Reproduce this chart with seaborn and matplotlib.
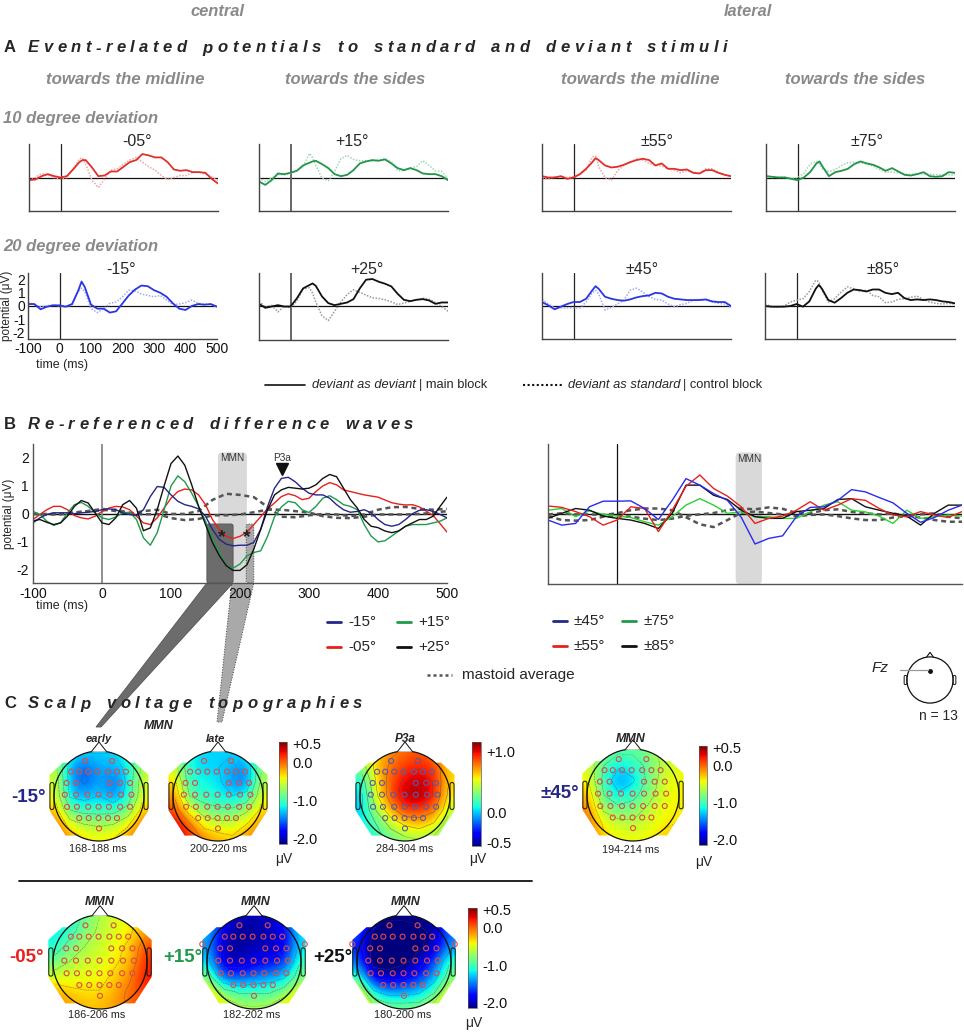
import numpy as np
import pandas as pd
import matplotlib
matplotlib.use("Agg")
import matplotlib.pyplot as plt
import seaborn as sns
from matplotlib.patches import Polygon, Circle, FancyBboxPatch
from matplotlib.lines import Line2D
from matplotlib.colors import Normalize
import matplotlib.cm as cm

# ====================== DATA ======================
# A: ERPs (time grid in ms)
t_a = [-100, -80, -60, -40, -20, 0, 20, 40, 60, 70, 80, 100, 120, 140, 160, 180, 200,
       220, 240, 260, 280, 300, 320, 340, 360, 380, 400, 420, 440, 460, 480, 500]

erp_m05_dev = [-0.2,-0.15,0.1,0.25,0.1,0.0, 0.1,0.6,1.15,1.3,1.3, 0.75,0.1,0.15,0.45,0.45,0.8,1.15,1.3,1.75,1.65,1.5,1.5,1.15,0.6,0.5,0.55,0.4,0.4,0.35,-0.1,-0.45]
erp_m05_ctl = [-0.25,0.0,0.3,0.2,0.0,-0.15, 0.0,0.65,1.4,1.45,1.0, -0.2,-0.75,-0.1,0.55,0.65,1.0,1.3,1.5,1.15,0.8,0.55,0.15,-0.15,0.0,0.15,0.15,0.4,0.4,0.25,0.05,-0.2]
erp_p15_dev = [-0.3,-0.55,-0.2,0.3,0.25,0.35, 0.5,0.9,1.1,1.2,1.25, 1.0,0.7,0.25,0.1,0.2,0.55,1.05,1.2,1.3,1.25,1.35,1.05,0.7,0.55,0.7,0.55,0.3,0.25,0.25,0.1,-0.2]
erp_p15_ctl = [-0.05,-0.3,-0.05,0.2,0.2,0.3, 0.5,0.8,1.8,1.5,0.9, -0.05,-0.25,0.45,1.4,1.65,1.35,1.25,1.25,1.2,1.3,1.4,1.2,0.5,0.5,0.7,0.8,1.25,0.9,0.5,0.45,-0.1]
erp_m15_dev = [0.15,0.15,-0.25,-0.05,0.05,0.05, -0.05,0.15,1.2,1.85,1.45, 0.1,-0.2,-0.2,-0.5,-0.4,0.2,0.8,1.25,1.55,1.5,1.2,1.0,0.7,0.2,-0.2,-0.3,0.0,0.15,0.1,0.15,-0.05]
erp_m15_ctl = [0.3,0.1,-0.05,0.0,0.1,0.0, -0.1,0.1,1.1,1.35,1.1, -0.2,-0.5,-0.2,0.2,0.3,0.7,1.2,1.15,0.9,0.8,0.7,0.8,0.45,0.1,0.15,0.25,0.45,0.2,0.15,0.1,-0.1]
erp_p25_dev = [0.2,-0.1,0.0,0.1,0.0,0.0, 0.6,1.35,1.6,1.72,1.55, 0.75,0.25,0.1,0.2,0.3,0.55,1.35,2.0,2.05,1.85,1.7,1.5,0.95,0.5,0.4,0.5,0.55,0.45,0.2,0.3,0.3]
erp_p25_ctl = [0.4,-0.05,0.1,-0.4,0.0,-0.1, 0.4,1.3,1.4,1.0,0.35, -0.7,-1.05,-0.35,0.35,0.9,1.25,1.05,0.85,0.65,0.6,0.5,0.35,0.15,0.25,0.38,0.5,0.62,0.55,0.3,0.0,-0.35]
erp_p55_dev = [0.1,0.0,0.0,0.1,-0.1,0.0, 0.25,0.65,1.15,1.45,1.3, 0.9,0.75,0.8,0.95,1.15,1.3,1.4,1.3,0.9,1.05,0.65,0.65,0.55,0.6,0.35,0.3,0.55,0.55,0.35,0.2,0.1]
erp_p55_ctl = [-0.1,-0.1,0.05,0.05,0.0,0.05, 0.2,0.55,1.55,1.6,0.8, 0.0,-0.2,0.5,0.9,1.1,1.4,1.3,1.05,0.9,0.85,0.65,0.55,0.35,0.5,0.4,0.3,0.65,0.65,0.4,0.2,0.05]
erp_p75_dev = [0.1,0.05,0.0,0.0,-0.1,-0.2, 0.0,0.4,1.05,1.2,0.8, 0.1,0.4,0.5,0.65,1.0,1.2,1.05,0.95,0.75,0.5,0.7,0.45,0.2,0.15,0.25,0.4,0.1,0.05,0.1,0.4,0.35]
erp_p75_ctl = [0.2,0.0,0.05,0.05,-0.1,0.0, 0.3,1.0,1.2,1.0,0.6, 0.45,0.6,0.9,1.1,1.15,1.1,1.0,0.85,0.6,0.4,0.4,0.35,0.25,0.25,0.3,0.25,0.25,0.2,0.2,0.2,0.2]
erp_p45_dev = [0.3,0.05,-0.25,-0.05,0.15,0.3, 0.3,0.55,1.2,1.5,1.3, 0.7,0.55,0.45,0.4,0.5,0.65,0.75,0.8,1.0,0.95,0.7,0.55,0.5,0.45,0.45,0.45,0.5,0.35,0.3,0.3,0.0]
erp_p45_ctl = [0.5,0.15,-0.15,-0.15,-0.15,-0.15, -0.15,0.3,1.0,1.2,0.9, -0.3,-0.1,0.15,0.45,1.2,1.35,1.05,0.7,0.5,0.45,0.15,-0.05,0.1,0.2,0.45,0.5,0.45,0.3,0.2,0.15,-0.1]
erp_p85_dev = [0.0,-0.05,-0.05,-0.05,0.0,0.15, -0.05,0.35,1.3,1.6,1.3, 0.45,0.25,0.6,1.0,1.25,1.2,1.1,1.25,1.25,1.0,0.9,1.0,0.6,0.45,0.5,0.45,0.5,0.45,0.35,0.3,0.2]
erp_p85_ctl = [0.15,-0.05,-0.1,0.0,0.3,0.45, 0.55,1.1,1.95,1.85,1.2, 0.3,0.55,1.05,1.45,1.3,1.1,1.2,0.8,0.7,0.25,0.3,0.5,0.55,0.65,0.75,0.5,0.3,0.2,0.15,0.2,0.15]

# B: difference waves, central (10 ms grid)
t_b = list(range(-100, 501, 10))
diff_m15 = [-0.32,-0.14,-0.02,0.04,0.04,0.04,0.01,0.04,0.06,0.09,0.15,
            0.18,0.15,0.04,-0.02,-0.06,0.15,0.62,0.98,0.95,0.68,
            0.45,0.33,0.27,0.18,-0.08,-0.55,-0.91,-1.08,-1.14,-1.12,
            -1.12,-1.02,-0.55,0.27,0.92,1.27,1.31,1.15,0.92,0.74,
            0.68,0.68,0.56,0.33,0.15,0.06,0.09,0.15,0.04,-0.2,
            -0.38,-0.44,-0.38,-0.2,0.01,0.13,0.15,0.09,-0.02,-0.14]
diff_m05 = [-0.2,-0.02,0.15,0.27,0.27,0.15,-0.06,-0.14,-0.18,-0.08,0.09,
            0.21,0.27,0.25,0.15,-0.08,-0.32,-0.38,-0.14,0.21,0.56,
            0.8,0.89,0.86,0.68,0.33,-0.2,-0.55,-0.8,-0.88,-0.8,
            -0.65,-0.38,-0.1,0.19,0.39,0.62,0.72,0.65,0.51,0.56,
            0.8,1.0,1.12,1.04,0.86,0.8,0.74,0.68,0.64,0.6,
            0.5,0.4,0.35,0.32,0.33,0.25,0.1,-0.06,-0.35,-0.65]
diff_p15 = [0.09,-0.02,-0.26,-0.41,-0.32,0.04,0.33,0.41,0.27,0.04,-0.14,
            -0.2,-0.11,0.04,0.06,-0.2,-0.85,-1.12,-0.67,0.15,1.0,
            1.36,1.15,0.74,0.27,-0.26,-0.85,-1.38,-1.85,-1.94,-1.79,
            -1.5,-1.38,-1.32,-0.8,-0.1,0.25,0.45,0.4,0.15,0.05,
            0.27,0.56,0.65,0.51,0.33,0.27,0.15,-0.38,-0.79,-1.0,
            -0.96,-0.79,-0.61,-0.44,-0.38,-0.38,-0.38,-0.32,-0.26,-0.14]
diff_p25 = [-0.25,-0.2,-0.3,-0.38,-0.32,-0.08,0.27,0.48,0.39,0.04,-0.32,
            -0.38,-0.14,0.33,0.48,0.2,-0.6,-0.5,0.15,1.0,1.8,
            2.07,1.74,1.04,0.27,-0.38,-1.02,-1.49,-1.85,-2.02,-2.02,
            -1.82,-1.26,-0.55,0.15,0.68,0.86,0.95,0.92,0.89,0.92,
            1.04,1.27,1.41,1.33,0.92,0.51,0.21,-0.2,-0.44,-0.49,
            -0.61,-0.67,-0.61,-0.44,-0.32,-0.2,-0.2,-0.08,0.27,0.6]

# 20 ms grid: mastoid averages and lateral difference waves
t_c = list(range(-100, 501, 20))
mast_l1 = [0.0,0.0,0.0,0.05,0.1,0.18, 0.1,0.0,0.1,0.15,0.0, 0.0,0.1,0.5,0.72,0.68,
           0.6,0.25,-0.1,-0.12,-0.05, 0.0,-0.02,-0.08,-0.02,0.15, 0.24,0.25,0.18,0.15,0.18]
mast_l2 = [0.0,-0.02,-0.02,0.05,0.1,0.13, 0.15,0.04,-0.02,0.0,-0.15, -0.22,-0.18,-0.05,-0.05,-0.02,
           0.06,0.15,0.15,0.1,0.05, -0.08,-0.14,-0.15,-0.1,-0.02, -0.02,-0.02,0.0,0.04,0.1]
diff_p45 = [-0.2,-0.38,-0.32,0.27,0.47,0.47, 0.48,0.21,-0.18,0.5,1.27, 1.04,0.74,0.5,-0.1,-1.05,
            -0.85,-0.76,-0.08,0.25,0.27, 0.5,0.88,0.8,0.6,0.41, 0.04,-0.28,-0.11,0.15,0.33]
diff_p55 = [0.3,0.25,0.1,-0.08,-0.38,-0.2, 0.27,0.21,-0.61,0.15,1.0, 1.4,0.92,0.65,0.27,-0.32,
            -0.14,-0.06,0.15,0.45,0.15, 0.33,0.56,0.5,0.21,-0.02, -0.08,0.1,-0.02,-0.11,0.1]
diff_p75 = [0.15,0.21,-0.08,0.13,0.0,-0.06, -0.11,-0.26,-0.38,-0.08,0.33, 0.56,0.33,0.04,0.09,-0.08,
            -0.08,-0.14,-0.14,0.09,0.33, 0.45,0.15,0.09,-0.06,-0.32, 0.15,-0.14,-0.08,-0.02,-0.06]
diff_p85 = [-0.14,0.04,0.21,0.15,-0.06,-0.14, -0.2,-0.32,-0.5,0.04,1.04, 1.04,0.68,0.53,0.15,-0.08,
            -0.14,-0.14,0.1,0.15,0.21, 0.53,0.56,0.27,0.15,0.04, -0.06,-0.38,0.04,0.33,0.33]
mast_r1 = [0.0,0.04,0.0,0.0,-0.02,0.04, 0.15,0.21,0.21,0.15,-0.1, -0.35,-0.45,-0.2,0.06,0.1,
           0.05,0.0,-0.06,-0.02,0.0, -0.06,-0.14,-0.2,-0.2,-0.11, -0.06,-0.11,-0.2,-0.26,-0.26]
mast_r2 = [-0.06,-0.2,-0.22,-0.2,-0.08,-0.06, -0.08,-0.15,-0.2,-0.15,-0.05, 0.0,0.05,0.15,0.21,0.18,
           0.25,0.2,0.05,0.04,0.15, 0.18,0.09,0.04,0.0,0.04, -0.06,0.0,0.04,-0.08,-0.14]

# windows (ms)
mmn_win_central = (168, 210)
mmn_win_lateral = (172, 210)
early_win = (152, 190)
late_win = (209, 220)
p3a_peak = (261, 1.62)
star_points = [(174, -0.85), (210, -0.85)]

# C: scalp maps, 7x7 voltage grids (rows front->back, cols left->right)
topo_m15_early = [[-0.7,-1.1,-1.25,-1.25,-1.25,-1.05,-0.7],
                  [-0.6,-1.4,-1.55,-1.35,-1.35,-1.2,-0.6],
                  [-0.5,-1.4,-1.6,-1.35,-1.55,-1.2,-0.5],
                  [-0.45,-1.3,-1.35,-1.25,-1.45,-1.15,-0.45],
                  [-0.25,-0.95,-1.05,-1.05,-1.05,-0.85,-0.25],
                  [0.0,-0.5,-0.65,-0.7,-0.65,-0.4,0.0],
                  [0.1,-0.15,-0.35,-0.4,-0.35,-0.15,0.1]]
topo_m15_late = [[-0.7,-1.15,-1.25,-1.25,-1.25,-1.15,-0.7],
                 [-0.55,-1.15,-1.25,-1.25,-1.35,-1.45,-0.7],
                 [-0.3,-1.1,-1.15,-1.2,-1.45,-1.5,-0.6],
                 [-0.1,-0.95,-1.1,-1.15,-1.25,-1.15,-0.45],
                 [0.1,-0.5,-0.8,-0.9,-0.9,-0.7,-0.3],
                 [0.35,0.0,-0.45,-0.55,-0.55,-0.35,-0.1],
                 [0.45,0.2,-0.1,-0.2,-0.3,-0.1,0.0]]
topo_m15_p3a = [[0.5,0.6,0.75,0.8,0.85,0.75,0.5],
                [0.3,0.65,0.8,0.9,0.95,0.9,0.6],
                [0.1,0.6,0.85,1.0,1.05,0.95,0.6],
                [0.0,0.55,0.85,1.08,1.1,0.95,0.55],
                [0.0,0.4,0.7,0.9,0.9,0.8,0.45],
                [0.05,0.2,0.45,0.6,0.65,0.55,0.3],
                [0.1,0.15,0.25,0.35,0.4,0.35,0.25]]
topo_p45 = [[-0.5,-0.75,-0.9,-0.9,-0.8,-0.6,-0.5],
            [-0.5,-0.95,-1.2,-1.1,-0.9,-0.6,-0.5],
            [-0.4,-1.05,-1.45,-1.3,-0.9,-0.55,-0.4],
            [-0.2,-0.95,-1.2,-1.05,-0.8,-0.5,-0.4],
            [-0.05,-0.7,-0.85,-0.8,-0.6,-0.45,-0.4],
            [0.0,-0.4,-0.55,-0.6,-0.5,-0.4,-0.35],
            [0.05,-0.3,-0.4,-0.45,-0.4,-0.3,-0.2]]
topo_m05 = [[-1.05,-1.15,-0.9,-0.65,-0.5,-0.4,-0.3],
            [-1.25,-1.05,-0.8,-0.6,-0.5,-0.4,-0.15],
            [-1.1,-0.85,-0.65,-0.55,-0.45,-0.3,0.1],
            [-0.85,-0.65,-0.55,-0.5,-0.4,-0.25,0.2],
            [-0.5,-0.5,-0.45,-0.45,-0.3,-0.1,0.25],
            [-0.2,-0.3,-0.35,-0.35,-0.2,0.0,0.15],
            [-0.05,-0.15,-0.25,-0.25,-0.15,0.0,0.05]]
topo_p15 = [[-1.0,-1.8,-2.0,-2.0,-2.0,-1.8,-1.0],
            [-1.3,-2.0,-2.1,-2.1,-2.0,-1.9,-1.2],
            [-1.4,-2.0,-2.1,-2.0,-2.0,-1.9,-1.2],
            [-1.2,-2.0,-2.0,-1.9,-1.8,-1.7,-1.0],
            [-0.8,-1.6,-1.6,-1.5,-1.4,-1.3,-0.8],
            [-0.3,-0.8,-1.0,-1.0,-1.0,-0.8,-0.4],
            [-0.1,-0.4,-0.6,-0.65,-0.6,-0.4,-0.1]]
topo_p25 = [[-1.2,-2.0,-2.1,-2.1,-2.1,-2.0,-1.2],
            [-1.6,-2.2,-2.3,-2.3,-2.2,-2.1,-1.5],
            [-1.7,-2.3,-2.3,-2.3,-2.2,-2.0,-1.4],
            [-1.5,-2.3,-2.3,-2.2,-2.0,-1.6,-1.0],
            [-1.0,-1.9,-2.0,-1.9,-1.7,-1.4,-0.8],
            [-0.3,-1.2,-1.4,-1.4,-1.3,-1.0,-0.4],
            [-0.1,-0.6,-0.8,-0.8,-0.8,-0.5,-0.2]]

# electrode montage (normalised head coordinates)
elec_x = [-0.31,0.29, -0.62,-0.44,-0.24,-0.03,0.2,0.4,0.6, -0.72,-0.51,0.24,0.47,0.69,
          -0.76,-0.51,-0.26,-0.01,0.24,0.49,0.72, -0.71,-0.49,-0.24,-0.01,0.22,0.47,0.69,
          -0.44,-0.23,-0.01,0.2,0.4, 0.0]
elec_y = [0.78,0.78, 0.54,0.54,0.54,0.54,0.54,0.54,0.54, 0.29,0.29,0.29,0.29,0.29,
          0.03,0.03,0.03,0.03,0.03,0.03,0.03, -0.24,-0.24,-0.24,-0.24,-0.24,-0.24,-0.24,
          -0.49,-0.49,-0.49,-0.49,-0.49, -0.72]

mmn_ticks = [0.5, 0.0, -1.0, -2.0]
mmn_tick_labels = ["+0.5", "0.0", "-1.0", "-2.0"]
p3a_ticks = [1.0, 0.0, -0.5]
p3a_tick_labels = ["+1.0", "0.0", "-0.5"]

# ====================== STYLE ======================
sns.set_theme(style="white")
plt.rcParams["font.family"] = ["Liberation Sans", "DejaVu Sans"]
plt.rcParams["axes.unicode_minus"] = False

W, H = 964, 1032
fig = plt.figure(figsize=(W / 100, H / 100), dpi=100)
fig.patch.set_facecolor("white")
renderer = fig.canvas.get_renderer()


def rect(l, t, r, b):
    return [l / W, 1 - b / H, (r - l) / W, (b - t) / H]


def ftext(x, y, s, **kw):
    kw.setdefault("va", "center")
    return fig.text(x / W, 1 - y / H, s, **kw)


def twidth(t):
    return t.get_window_extent(renderer).width


def fit_text(xc, y, s, width, size0=12, **kw):
    t = ftext(xc, y, s, ha="center", fontsize=size0, **kw)
    t.set_fontsize(size0 * width / twidth(t))
    return t


def spaced(x0, x1, y, s, size, **kw):
    objs = []
    for ch in s:
        if ch == " ":
            objs.append((None, 0))
        else:
            t = ftext(0, y, ch, fontsize=size, ha="left", **kw)
            objs.append((t, twidth(t)))
    space_w = size * 1.389 * 0.45
    total = sum(w for _, w in objs) + space_w * s.count(" ")
    track = (x1 - x0 - total) / (len(s) - 1)
    x = x0
    for t, w in objs:
        if t is None:
            x += space_w + track
        else:
            t.set_x(x / W)
            x += w + track


def fline(x0, x1, y, **kw):
    fig.add_artist(Line2D([x0 / W, x1 / W], [1 - y / H, 1 - y / H], **kw))


GRAY_T = "#8a8a8a"
NAVY = "#262686"
RED = "#e8201c"
GREEN = "#1f9a4b"

# ---------------- headers ----------------
for xc, s, w in [(217, "central", 54), (748, "lateral", 48)]:
    fit_text(xc, 11, s, w, color=GRAY_T, fontweight="bold", style="italic",
             family=["Liberation Sans Narrow", "Liberation Sans"])
ftext(4, 48, "A", fontsize=12, fontweight="bold", ha="left")
spaced(28, 727, 48, "Event-related potentials to standard and deviant stimuli", 12,
       fontweight="bold", style="italic")
for xc, s, w in [(125, "towards the midline", 158), (355, "towards the sides", 140),
                 (640, "towards the midline", 158), (855, "towards the sides", 140)]:
    fit_text(xc, 79, s, w, color=GRAY_T, fontweight="bold", style="italic",
             family=["Liberation Sans Narrow", "Liberation Sans"])
ftext(3, 118, "10 degree deviation", fontsize=12, fontweight="bold", style="italic",
      color=GRAY_T, ha="left")
ftext(3, 246, "20 degree deviation", fontsize=12, fontweight="bold", style="italic",
      color=GRAY_T, ha="left")

# ---------------- A panels ----------------
A_panels = [
    ((29, 144, 218, 211), erp_m05_dev, erp_m05_ctl, "#e0302b", "#f2a3a3", "#222", "-05°", 137, 141),
    ((259, 144, 448, 211), erp_p15_dev, erp_p15_ctl, "#23944a", "#9fd9b5", "#666", "+15°", 352, 141),
    ((542, 144, 731, 211), erp_p55_dev, erp_p55_ctl, "#e0302b", "#f2a3a3", "#222", "±55°", 657, 141),
    ((766, 144, 955, 211), erp_p75_dev, erp_p75_ctl, "#23944a", "#9fd9b5", "#222", "±75°", 867, 141),
    ((28, 273, 217, 339), erp_m15_dev, erp_m15_ctl, "#2a36e6", "#a3aaf2", "#222", "-15°", 121, 269),
    ((259, 273, 448, 340), erp_p25_dev, erp_p25_ctl, "#111111", "#9a9a9a", "#666", "+25°", 367, 269),
    ((542, 273, 731, 339), erp_p45_dev, erp_p45_ctl, "#2a36e6", "#a3aaf2", "#222", "±45°", 642, 269),
    ((765, 273, 955, 339), erp_p85_dev, erp_p85_ctl, "#111111", "#9a9a9a", "#222", "±85°", 883, 269),
]
for i, (r, dev, ctl, cdev, cctl, zc, title, tx, ty) in enumerate(A_panels):
    ax = fig.add_axes(rect(*r))
    ax.patch.set_alpha(0)
    sns.lineplot(x=t_a, y=ctl, ax=ax, color=cctl, linewidth=1.1, linestyle=(0, (1, 1)),
                 errorbar=None, legend=False)
    sns.lineplot(x=t_a, y=dev, ax=ax, color=cdev, linewidth=1.3, errorbar=None, legend=False)
    ax.axhline(0, color="#111", lw=0.9, zorder=1)
    ax.axvline(0, color=zc, lw=1.4 if zc == "#666" else 0.9, zorder=1)
    ax.set_xlim(-100, 500)
    ax.set_ylim(-2.5, 2.5)
    ax.set_xticks(range(-100, 501, 100))
    ax.set_yticks([-2, -1, 0, 1, 2])
    ax.tick_params(direction="in", length=3, width=0.8, colors="#333", pad=2, labelsize=10)
    for sp in ["top", "right"]:
        ax.spines[sp].set_visible(False)
    for sp in ["left", "bottom"]:
        ax.spines[sp].set_color("#444")
        ax.spines[sp].set_linewidth(1.0)
    ax.set_xlabel("")
    ax.set_ylabel("")
    if title == "-15°":
        ax.set_xticklabels(["-100", "0", "100", "200", "300", "400", "500"])
        ax.set_yticklabels(["-2", "-1", "0", "1", "2"])
        ax.tick_params(labelcolor="#111")
    else:
        ax.set_xticklabels([])
        ax.set_yticklabels([])
    ftext(tx, ty, title, fontsize=11.5, ha="center")

ftext(7, 306, "potential (μV)", fontsize=8.5, rotation=90, ha="center")
ftext(62, 365, "time (ms)", fontsize=9, ha="center")

# A legend
fline(265, 305, 385, color="#111", lw=1.2)
t1 = ftext(312, 385, "deviant as deviant", fontsize=9.3, style="italic", ha="left")
ftext(312 + twidth(t1) + 3, 385, "| main block", fontsize=9.3, ha="left")
fline(523, 563, 385, color="#111", lw=1.5, linestyle=(0, (1, 1.2)))
t2 = ftext(568, 385, "deviant as standard", fontsize=9.3, style="italic", ha="left")
ftext(568 + twidth(t2) + 3, 385, "| control block", fontsize=9.3, ha="left")

# ---------------- B panels ----------------
ftext(4, 424, "B", fontsize=12, fontweight="bold", ha="left")
spaced(28, 413, 424, "Re-referenced difference waves", 12, fontweight="bold", style="italic")

YB = (-2.47, 2.5)


def b_axes(r, labels):
    ax = fig.add_axes(rect(*r))
    ax.patch.set_alpha(0)
    ax.set_xlim(-100, 500)
    ax.set_ylim(*YB)
    ax.set_xticks(range(-100, 501, 100))
    ax.set_yticks([-2, -1, 0, 1, 2])
    ax.tick_params(direction="in", length=3, width=0.8, colors="#333", pad=3, labelsize=10,
                   labelcolor="#111")
    for sp in ["top", "right"]:
        ax.spines[sp].set_visible(False)
    for sp in ["left", "bottom"]:
        ax.spines[sp].set_color("#555")
        ax.spines[sp].set_linewidth(1.0)
    if labels:
        ax.set_xticklabels(["-100", "0", "100", "200", "300", "400", "500"])
        ax.set_yticklabels(["-2", "-1", "0", "1", "2"])
    else:
        ax.set_xticklabels([])
        ax.set_yticklabels([])
    return ax


def aspect_for(ax):
    bb = ax.get_window_extent(renderer)
    xs = (ax.get_xlim()[1] - ax.get_xlim()[0]) / bb.width
    ys = (ax.get_ylim()[1] - ax.get_ylim()[0]) / bb.height
    return ys / xs


axL = b_axes((33, 444, 447, 583), True)
asp = aspect_for(axL)
m0, m1 = mmn_win_central
axL.add_patch(FancyBboxPatch((m0, YB[0]), m1 - m0, 2.2 - YB[0],
                             boxstyle="round,pad=0,rounding_size=6", mutation_aspect=asp,
                             fc="#d9d9d9", ec="none", zorder=0.3))
axL.text((m0 + m1) / 2, 2.0, "MMN", ha="center", va="center", fontsize=7.2, color="#333")
e0, e1 = early_win
axL.add_patch(FancyBboxPatch((e0, YB[0]), e1 - e0, -0.36 - YB[0],
                             boxstyle="round,pad=0,rounding_size=3", mutation_aspect=asp,
                             fc="#6c6c6c", ec="#555", lw=0.6, zorder=0.5))
l0, l1 = late_win
axL.add_patch(FancyBboxPatch((l0, YB[0]), l1 - l0, -0.36 - YB[0],
                             boxstyle="round,pad=0,rounding_size=3", mutation_aspect=asp,
                             fc="#a9a9a9", ec="#444", lw=0.7, ls=":", zorder=0.5))
axL.axhline(0, color="#111", lw=1.0, zorder=1)
axL.axvline(0, color="#888", lw=1.3, zorder=1)
for y in (mast_l1, mast_l2):
    sns.lineplot(x=t_c, y=y, ax=axL, color="#555", linewidth=1.8, linestyle=(0, (2, 1.5)),
                 errorbar=None, legend=False)
for y, c in [(diff_m05, RED), (diff_p15, GREEN), (diff_m15, NAVY), (diff_p25, "#111")]:
    sns.lineplot(x=t_b, y=y, ax=axL, color=c, linewidth=1.0, errorbar=None, legend=False)
axL.set_xlabel("")
axL.set_ylabel("")
axL.text(p3a_peak[0], 2.0, "P3a", ha="center", va="center", fontsize=7.2, color="#333")
axL.plot([p3a_peak[0]], [p3a_peak[1]], marker="v", ms=8, color="#111", zorder=5)
for sx, sy in star_points:
    axL.text(sx, sy, "*", ha="center", va="center", fontsize=14, fontweight="bold",
             color="#222", zorder=6)
ftext(9, 514, "potential (μV)", fontsize=8.5, rotation=90, ha="center")
ftext(62, 606, "time (ms)", fontsize=9, ha="center")

axR = b_axes((548, 444, 962, 584), False)
aspR = aspect_for(axR)
n0, n1 = mmn_win_lateral
axR.add_patch(FancyBboxPatch((n0, YB[0]), n1 - n0, 2.2 - YB[0],
                             boxstyle="round,pad=0,rounding_size=6", mutation_aspect=aspR,
                             fc="#d9d9d9", ec="none", zorder=0.3))
axR.text((n0 + n1) / 2, 1.95, "MMN", ha="center", va="center", fontsize=7.2, color="#333")
axR.axhline(0, color="#111", lw=1.0, zorder=1)
axR.axvline(0, color="#111", lw=0.9, zorder=1)
for y in (mast_r1, mast_r2):
    sns.lineplot(x=t_c, y=y, ax=axR, color="#555", linewidth=1.8, linestyle=(0, (2, 1.5)),
                 errorbar=None, legend=False)
for y, c in [(diff_p75, "#2ed12e"), (diff_p85, "#111"), (diff_p55, RED), (diff_p45, "#2a2af0")]:
    sns.lineplot(x=t_c, y=y, ax=axR, color=c, linewidth=1.0, errorbar=None, legend=False)
axR.set_xlabel("")
axR.set_ylabel("")

# B legends
for x0, y, c, s in [(327, 622, NAVY, "-15°"), (397, 622, GREEN, "+15°"),
                    (327, 647, RED, "-05°"), (397, 647, "#111", "+25°"),
                    (553, 621, NAVY, "±45°"), (622, 621, GREEN, "±75°"),
                    (553, 646, RED, "±55°"), (622, 646, "#111", "±85°")]:
    fline(x0, x0 + 14, y, color=c, lw=2.0)
    ftext(x0 + 21, y, s, fontsize=11, ha="left")
fline(427, 452, 675, color="#555", lw=1.8, linestyle=(0, (1.2, 1.2)))
ftext(462, 675, "mastoid average", fontsize=11, ha="left")


# funnels from the B windows down to the maps
def to_fig(ax, x, y):
    d = ax.transData.transform((x, y))
    return fig.transFigure.inverted().transform(d)


def px(x, y):
    return (x / W, 1 - y / H)


light = [to_fig(axL, 188, YB[0]), to_fig(axL, l1, YB[0]), px(222, 722), px(217, 722)]
fig.add_artist(Polygon(light, closed=True, transform=fig.transFigure, fc="#a9a9a9",
                       ec="#444", lw=0.7, ls=":", zorder=-1))
dark = [to_fig(axL, e0, YB[0]), to_fig(axL, e1, YB[0]), px(101, 727), px(96, 727)]
fig.add_artist(Polygon(dark, closed=True, transform=fig.transFigure, fc="#6c6c6c",
                       ec="#555", lw=0.6, zorder=-0.5))

# Fz head icon
axF = fig.add_axes(rect(930 - 30, 680 - 30, 930 + 30, 680 + 30))
axF.set_xlim(-1.3, 1.3)
axF.set_ylim(-1.3, 1.3)
axF.axis("off")
axF.add_patch(Circle((0, 0), 1, fill=False, ec="#111", lw=0.9))
axF.add_patch(Polygon([(-0.15, 0.99), (0, 1.2), (0.15, 0.99)], closed=False, fill=False,
                      ec="#111", lw=0.8))
for sx in (-1, 1):
    axF.add_patch(FancyBboxPatch((sx * 1.0 - (0.12 if sx < 0 else 0), -0.2), 0.12, 0.4,
                                 boxstyle="round,pad=0,rounding_size=0.06", fill=False,
                                 ec="#111", lw=0.7))
axF.plot([0], [0.4], marker="o", ms=2.5, color="#111")
axF.plot([-1.3, -0.1], [0.42, 0.42], color="#999", lw=0.9, clip_on=False)
ftext(880, 668, "Fz", fontsize=11, style="italic", ha="center")
ftext(938, 716, "n = 13", fontsize=10, ha="center")

# ---------------- C: topographies ----------------
ftext(4, 704, "C", fontsize=12, fontweight="bold", ha="left")
spaced(28, 362, 704, "Scalp voltage topographies", 12, fontweight="bold", style="italic")

HEAD_POLY = [(-0.8, 0.74), (-1.1, 0.47), (-1.1, -0.32), (-0.74, -0.88), (0.74, -0.88),
             (1.1, -0.32), (1.1, 0.47), (0.8, 0.74)]
norm_mmn = Normalize(vmin=-2.15, vmax=0.53)
norm_p3a = Normalize(vmin=-0.55, vmax=1.15)


def topo(cx, cy, r, grid, norm, ecol, extra=False):
    s = 1.32
    ax = fig.add_axes(rect(cx - s * r, cy - s * r, cx + s * r, cy + s * r))
    ax.patch.set_alpha(0)
    g = np.array(grid, dtype=float)
    n = g.shape[0]
    ext = 1.12
    d = 2 * ext / n
    xs = np.linspace(-ext + d / 2, ext - d / 2, n)
    lv = np.arange(norm.vmin, norm.vmax + 0.01, (norm.vmax - norm.vmin) / 9.0)
    for clip in (Circle((0, 0), 1, transform=ax.transData),
                 Polygon(HEAD_POLY, closed=True, transform=ax.transData)):
        im = ax.imshow(g, extent=(-ext, ext, -ext, ext), cmap="jet", norm=norm,
                       interpolation="bicubic", origin="upper", zorder=1)
        im.set_clip_path(clip)
        cs = ax.contour(xs, xs, g[::-1], levels=lv, colors="#4d4d4d", linewidths=0.35,
                        alpha=0.45, zorder=2)
        cs.set_clip_path(clip)
    ax.set_xlim(-s, s)
    ax.set_ylim(-s, s)
    ax.set_aspect("auto")
    ax.axis("off")
    ax.add_patch(Circle((0, 0), 1, fill=False, ec="#111", lw=0.9, zorder=5))
    ax.add_patch(Polygon([(-0.17, 0.985), (0, 1.2), (0.17, 0.985)], closed=False,
                         fc="white", ec="#111", lw=0.7, zorder=5))
    for sx in (-1, 1):
        ax.add_patch(FancyBboxPatch((sx * 1.0 - (0.09 if sx < 0 else 0), -0.3), 0.09, 0.6,
                                    boxstyle="round,pad=0,rounding_size=0.045", fill=False,
                                    ec="#111", lw=0.7, zorder=5))
    ex, ey = list(elec_x), list(elec_y)
    if extra:
        ex += [-1.1, 1.08]
        ey += [0.38, 0.38]
    ax.scatter(ex, ey, s=13, facecolors="none", edgecolors=ecol, linewidths=0.8,
               zorder=6, clip_on=False)
    return ax


def cbar(l, t, r, b, norm, ticks, labels, uvy):
    cax = fig.add_axes(rect(l, t, r, b))
    sm = cm.ScalarMappable(norm=norm, cmap="jet")
    cb = fig.colorbar(sm, cax=cax)
    cb.set_ticks(ticks)
    cb.set_ticklabels(labels)
    cb.outline.set_linewidth(0.5)
    cb.outline.set_edgecolor("#555")
    cax.tick_params(length=0, pad=4, labelsize=10.5, labelcolor="#111")
    ftext((l + r) / 2 + 1, uvy, "μV", fontsize=10, ha="center")


EC = "#e04a4a"
topo(99, 796, 45, topo_m15_early, norm_mmn, EC)
topo(218, 796, 45, topo_m15_late, norm_mmn, EC)
topo(405, 796, 45, topo_m15_p3a, norm_p3a, "#5a5aa8")
topo(633, 795, 46, topo_p45, norm_mmn, EC)
topo(100, 962, 47, topo_m05, norm_mmn, EC)
topo(254, 962, 47, topo_p15, norm_mmn, EC, extra=True)
topo(404, 962, 47, topo_p25, norm_mmn, EC, extra=True)

cbar(279, 742, 287, 844, norm_mmn, mmn_ticks, mmn_tick_labels, 859)
cbar(472, 742, 481, 846, norm_p3a, p3a_ticks, p3a_tick_labels, 859)
cbar(699, 746, 707, 845, norm_mmn, mmn_ticks, mmn_tick_labels, 862)
cbar(468, 908, 477, 1008, norm_mmn, mmn_ticks, mmn_tick_labels, 1023)

# map labels
ftext(159, 726, "MMN", fontsize=9, fontweight="bold", style="italic", ha="center")
ftext(99, 739, "early", fontsize=8, fontweight="bold", style="italic", ha="center")
ftext(216, 739, "late", fontsize=8, fontweight="bold", style="italic", ha="center")
ftext(405, 739, "P3a", fontsize=8.5, fontweight="bold", style="italic", ha="center")
ftext(631, 739, "MMN", fontsize=9, fontweight="bold", style="italic", ha="center")
for x, y, s in [(98, 849, "168-188 ms"), (218, 849, "200-220 ms"), (405, 849, "284-304 ms"),
                (631, 850, "194-214 ms"), (97, 1015, "186-206 ms"), (252, 1015, "182-202 ms"),
                (403, 1015, "180-200 ms")]:
    ftext(x, y, s, fontsize=7.8, color="#222", ha="center")
for x in (100, 256, 406):
    ftext(x, 902, "MMN", fontsize=9, fontweight="bold", style="italic", ha="center")
ftext(28, 797, "-15°", fontsize=13.5, fontweight="bold", color=NAVY, ha="center")
ftext(560, 793, "±45°", fontsize=13.5, fontweight="bold", color=NAVY, ha="center")
ftext(27, 958, "-05°", fontsize=13.5, fontweight="bold", color=RED, ha="center")
ftext(183, 958, "+15°", fontsize=13.5, fontweight="bold", color=GREEN, ha="center")
ftext(333, 958, "+25°", fontsize=13.5, fontweight="bold", color="#111", ha="center")
fline(19, 532, 881, color="#111", lw=1.3)

fig.savefig("out.png", dpi=100, facecolor="white")
